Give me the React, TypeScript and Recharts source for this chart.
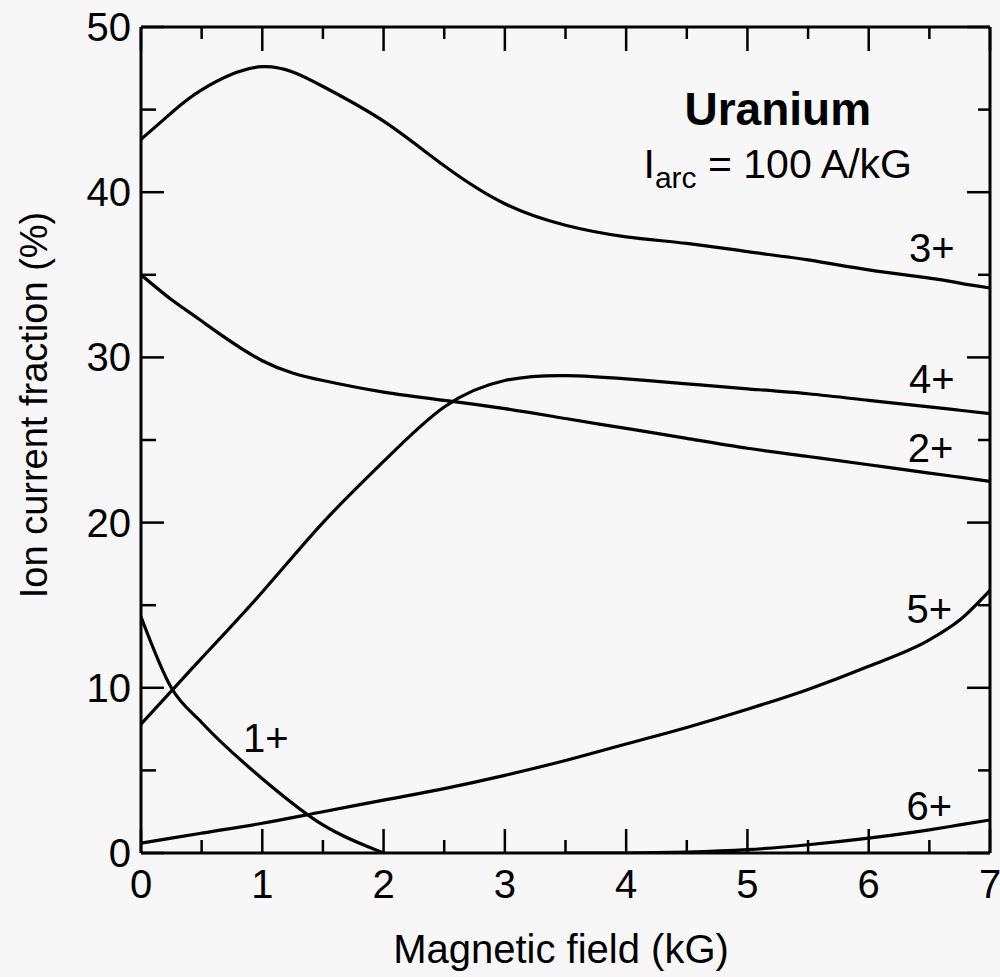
import { LineChart, Line, XAxis, YAxis, ReferenceDot } from 'recharts';

// magnetic field (kG) sample points
const fieldKG = [0, 0.25, 0.5, 1, 1.5, 2, 2.5, 3, 3.5, 4, 4.5, 5, 5.5, 6, 6.5, 6.75, 7];

// ion current fraction (%) per charge state
const ion1 = [14.3, 10.0, 7.9, 4.5, 1.7, 0, null, null, null, null, null, null, null, null, null, null, null];
const ion2 = [35.0, 33.5, 32.2, 29.8, 28.6, 27.9, 27.4, 26.9, 26.3, 25.7, 25.1, 24.5, 24.0, 23.5, 23.0, 22.75, 22.5];
const ion3 = [43.2, 44.8, 46.2, 47.6, 46.4, 44.3, 41.6, 39.3, 38.0, 37.3, 36.9, 36.4, 35.9, 35.3, 34.8, 34.5, 34.2];
const ion4 = [7.8, 9.8, 11.8, 15.8, 20.0, 23.7, 27.0, 28.6, 28.9, 28.7, 28.4, 28.1, 27.8, 27.4, 27.0, 26.8, 26.6];
const ion5 = [0.6, 0.9, 1.2, 1.8, 2.5, 3.2, 3.9, 4.7, 5.6, 6.6, 7.6, 8.7, 9.9, 11.3, 12.9, 14.1, 15.9];
const ion6 = [null, null, null, null, null, null, null, null, 0, 0, 0.05, 0.2, 0.5, 0.9, 1.4, 1.7, 2.0];

const xTicks = [0, 0.5, 1, 1.5, 2, 2.5, 3, 3.5, 4, 4.5, 5, 5.5, 6, 6.5, 7];
const yTicks = [0, 5, 10, 15, 20, 25, 30, 35, 40, 45, 50];

const series = [
  { key: 'ion1', curve: 'monotone' },
  { key: 'ion2', curve: 'natural' },
  { key: 'ion3', curve: 'natural' },
  { key: 'ion4', curve: 'natural' },
  { key: 'ion5', curve: 'monotone' },
  { key: 'ion6', curve: 'monotone' },
];

// curve labels, placed at their baseline
const curveLabels = [
  { text: '3+', x: 6.52, y: 35.8 },
  { text: '4+', x: 6.52, y: 27.85 },
  { text: '2+', x: 6.51, y: 23.67 },
  { text: '5+', x: 6.5, y: 13.92 },
  { text: '6+', x: 6.5, y: 2.0 },
  { text: '1+', x: 1.03, y: 6.11 },
];

const data = fieldKG.map((x, i) => ({
  x,
  ion1: ion1[i],
  ion2: ion2[i],
  ion3: ion3[i],
  ion4: ion4[i],
  ion5: ion5[i],
  ion6: ion6[i],
}));

const FONT = '"Liberation Sans", Arial, Helvetica, sans-serif';

const BottomTick = ({ x, y, payload }: any) => {
  const major = Number.isInteger(payload.value);
  return (
    <g>
      <line x1={x} y1={y} x2={x} y2={y - (major ? 24 : 13)} stroke="#000" strokeWidth={2.5} />
      {major && (
        <text x={x} y={y + 45} textAnchor="middle" fontSize={40} fill="#000" fontFamily={FONT}>
          {payload.value}
        </text>
      )}
    </g>
  );
};

const TopTick = ({ x, y, payload }: any) => {
  const major = Number.isInteger(payload.value);
  return <line x1={x} y1={y} x2={x} y2={y + (major ? 24 : 12)} stroke="#000" strokeWidth={2.5} />;
};

const LeftTick = ({ x, y, payload }: any) => {
  const major = payload.value % 10 === 0;
  return (
    <g>
      <line x1={x} y1={y} x2={x + (major ? 23 : 15)} y2={y} stroke="#000" strokeWidth={2.5} />
      {major && (
        <text x={x - 10} y={y + 14} textAnchor="end" fontSize={40} fill="#000" fontFamily={FONT}>
          {payload.value}
        </text>
      )}
    </g>
  );
};

const RightTick = ({ x, y, payload }: any) => {
  const major = payload.value % 10 === 0;
  return <line x1={x} y1={y} x2={x - (major ? 23 : 12)} y2={y} stroke="#000" strokeWidth={2.5} />;
};

const textAt = (content: any) => (props: any) => {
  const vb = props.viewBox || {};
  const cx = (vb.x ?? 0) + (vb.width ?? 0) / 2;
  const cy = (vb.y ?? 0) + (vb.height ?? 0) / 2;
  return content(cx, cy);
};

const axisLine = { stroke: '#000', strokeWidth: 3 };

export default function App() {
  return (
    <div style={{ position: 'absolute', left: 0, top: 0, width: 1000, height: 977, background: '#f7f7f7', fontFamily: FONT }}>
      <LineChart width={1000} height={977} data={data} margin={{ top: 26, right: 9, bottom: 64, left: 81 }}>
        <XAxis
          dataKey="x"
          type="number"
          domain={[0, 7]}
          ticks={xTicks}
          interval={0}
          height={60}
          tickSize={0}
          tickMargin={0}
          axisLine={axisLine}
          tick={<BottomTick />}
          allowDataOverflow
        />
        <XAxis
          xAxisId="top"
          orientation="top"
          dataKey="x"
          type="number"
          domain={[0, 7]}
          ticks={xTicks}
          interval={0}
          height={1}
          tickSize={0}
          tickMargin={0}
          axisLine={axisLine}
          tick={<TopTick />}
          allowDataOverflow
        />
        <YAxis
          type="number"
          domain={[0, 50]}
          ticks={yTicks}
          interval={0}
          width={60}
          tickSize={0}
          tickMargin={0}
          axisLine={axisLine}
          tick={<LeftTick />}
          allowDataOverflow
        />
        <YAxis
          yAxisId="right"
          orientation="right"
          type="number"
          domain={[0, 50]}
          ticks={yTicks}
          interval={0}
          width={1}
          tickSize={0}
          tickMargin={0}
          axisLine={axisLine}
          tick={<RightTick />}
          allowDataOverflow
        />
        {series.map((s) => (
          <Line
            key={s.key}
            type={s.curve as any}
            dataKey={s.key}
            stroke="#000"
            strokeWidth={3.2}
            dot={false}
            activeDot={false}
            isAnimationActive={false}
          />
        ))}
        {curveLabels.map((l) => (
          <ReferenceDot
            key={l.text}
            x={l.x}
            y={l.y}
            r={0}
            fill="none"
            stroke="none"
            label={textAt((cx: number, cy: number) => (
              <text x={cx} y={cy} textAnchor="middle" fontSize={40} fill="#000" fontFamily={FONT}>
                {l.text}
              </text>
            ))}
          />
        ))}
        <ReferenceDot
          x={5.25}
          y={44.07}
          r={0}
          fill="none"
          stroke="none"
          label={textAt((cx: number, cy: number) => (
            <text x={cx} y={cy} textAnchor="middle" fontSize={46} fontWeight="bold" fill="#000" fontFamily={FONT}>
              Uranium
            </text>
          ))}
        />
        <ReferenceDot
          x={5.25}
          y={40.86}
          r={0}
          fill="none"
          stroke="none"
          label={textAt((cx: number, cy: number) => (
            <text x={cx} y={cy} textAnchor="middle" fontSize={41} fill="#000" fontFamily={FONT}>
              I
              <tspan fontSize={30} dy={10}>arc</tspan>
              <tspan dy={-10}> = 100 A/kG</tspan>
            </text>
          ))}
        />
      </LineChart>
      <svg width={1000} height={977} style={{ position: 'absolute', left: 0, top: 0, pointerEvents: 'none' }}>
        <text x={561} y={963} textAnchor="middle" fontSize={40} fill="#000" fontFamily={FONT}>
          Magnetic field (kG)
        </text>
        <text
          x={47}
          y={405}
          transform="rotate(-90 47 405)"
          textAnchor="middle"
          fontSize={38}
          fill="#000"
          fontFamily={FONT}
        >
          Ion current fraction (%)
        </text>
      </svg>
    </div>
  );
}
